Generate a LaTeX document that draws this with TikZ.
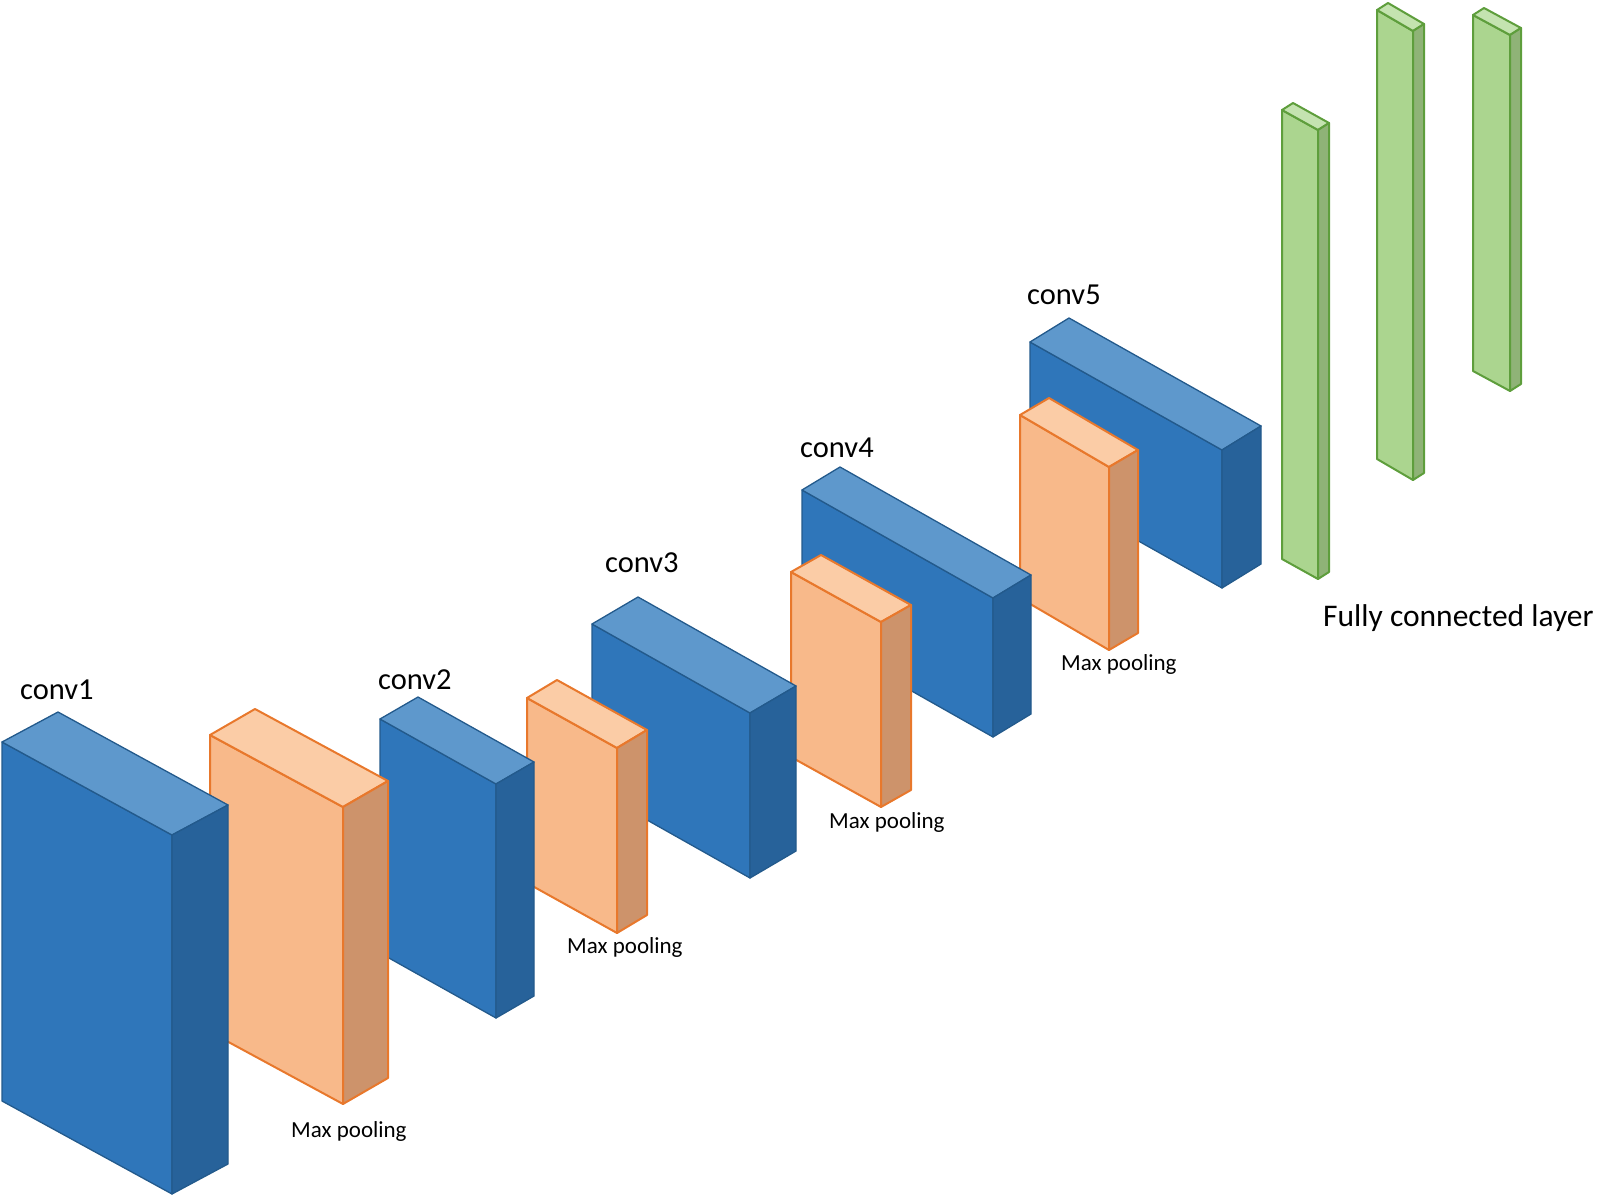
\documentclass[tikz,border=0pt]{standalone}
\usepackage{fontspec}
\setmainfont{Carlito}
\definecolor{bfront}{HTML}{2F76BA}
\definecolor{btop}{HTML}{5E98CC}
\definecolor{bside}{HTML}{27629A}
\definecolor{bline}{HTML}{235A8C}
\definecolor{ofront}{HTML}{F8B98A}
\definecolor{otop}{HTML}{FBCCA6}
\definecolor{oside}{HTML}{CD936B}
\definecolor{oline}{HTML}{E8782C}
\definecolor{gfront}{HTML}{ABD58F}
\definecolor{gtop}{HTML}{C4E3B0}
\definecolor{gside}{HTML}{8FB377}
\definecolor{gline}{HTML}{5E9E3C}
\tikzset{
  blue line/.style={draw=bline, line width=1.3pt, line join=round},
  blue front/.style={fill=bfront}, blue top/.style={fill=btop}, blue side/.style={fill=bside},
  orange line/.style={draw=oline, line width=2pt, line join=round},
  orange front/.style={fill=ofront}, orange top/.style={fill=otop}, orange side/.style={fill=oside},
  green line/.style={draw=gline, line width=2pt, line join=round},
  green front/.style={fill=gfront}, green top/.style={fill=gtop}, green side/.style={fill=gside},
  convlabel/.style={anchor=base west, inner sep=0pt, font=\fontsize{30.5}{36}\selectfont},
  poollabel/.style={anchor=base west, inner sep=0pt, font=\fontsize{23}{28}\selectfont},
  fclabel/.style={anchor=base west, inner sep=0pt, font=\fontsize{31.5}{38}\selectfont}
}
% #1 name, #2 #3 front-left top corner, #4 #5 front width vector, #6 #7 depth vector (up), #8 height, #9 colour
\newcommand\cuboid[9]{%
  \coordinate (#1-A) at (#2,#3);
  \coordinate (#1-B) at (#2+#4,#3+#5);
  \coordinate (#1-C) at (#2+#4+#6,#3+#5-#7);
  \coordinate (#1-D) at (#2+#6,#3-#7);
  \coordinate (#1-a) at (#2,#3+#8);
  \coordinate (#1-b) at (#2+#4,#3+#5+#8);
  \coordinate (#1-c) at (#2+#4+#6,#3+#5-#7+#8);
  \path[#9 line, #9 front] (#1-A)--(#1-B)--(#1-b)--(#1-a)--cycle;
  \path[#9 line, #9 top] (#1-A)--(#1-D)--(#1-C)--(#1-B)--cycle;
  \path[#9 line, #9 side] (#1-B)--(#1-C)--(#1-c)--(#1-b)--cycle;
}
\begin{document}
\begin{tikzpicture}[x=1pt,y=-1pt]
\useasboundingbox (0,0) rectangle (1599,1201);
% back to front (right to left)
\cuboid{fc3}{1473}{15}{37}{20}{11}{7}{356}{green}
\cuboid{fc2}{1377}{10}{36}{21}{11}{7}{449}{green}
\cuboid{fc1}{1282}{110}{36}{20}{11}{7}{449}{green}
\cuboid{conv5}{1030}{342}{192}{108}{39}{24}{138}{blue}
\cuboid{pool4}{1020}{415}{89}{52}{29}{17}{183}{orange}
\cuboid{conv4}{802}{490}{191}{108}{38}{23}{139}{blue}
\cuboid{pool3}{791}{572}{90}{50}{30}{17}{185}{orange}
\cuboid{conv3}{592}{624}{158}{89}{46}{27}{165}{blue}
\cuboid{pool2}{527}{698}{90}{50}{30}{18}{185}{orange}
\cuboid{conv2}{380}{719}{116}{65}{38}{22}{234}{blue}
\cuboid{pool1}{210}{735}{133}{72}{45}{26}{297}{orange}
\cuboid{conv1}{2}{742}{170}{93}{56}{30}{359}{blue}
% labels
\node[convlabel] (t1) at (20,699) {conv1};
\node[convlabel] (t2) at (378,689) {conv2};
\node[convlabel] (t3) at (605,572) {conv3};
\node[convlabel] (t4) at (800,457) {conv4};
\node[convlabel] (t5) at (1027,305) {conv5};
\node[poollabel] (m1) at (291,1137) {Max pooling};
\node[poollabel] (m2) at (567,953) {Max pooling};
\node[poollabel] (m3) at (829,828) {Max pooling};
\node[poollabel] (m4) at (1061,670) {Max pooling};
\node[fclabel] (fc) at (1323,626) {Fully connected layer};
\end{tikzpicture}
\end{document}
